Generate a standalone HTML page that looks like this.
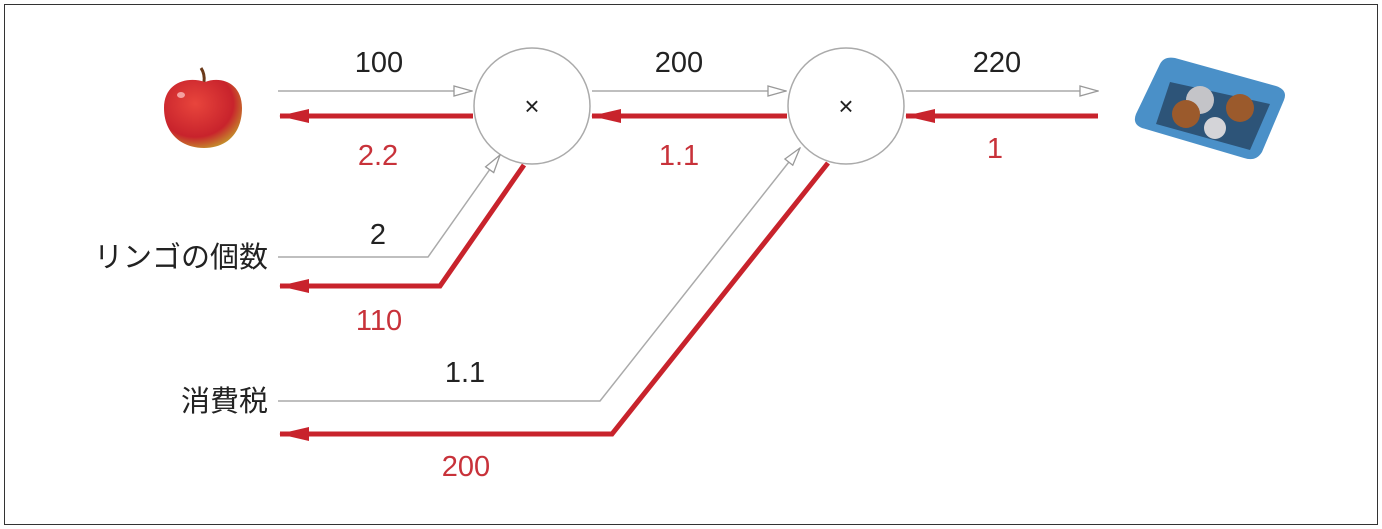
<!DOCTYPE html>
<html><head><meta charset="utf-8"><style>
body{margin:0;background:#fff}
svg{display:block}
text{font-family:"Liberation Sans","Noto Sans CJK JP",sans-serif}
</style></head><body>
<svg width="1382" height="529" viewBox="0 0 1382 529">
<defs>
<marker id="open" viewBox="0 0 20 12" refX="19" refY="6" markerWidth="20" markerHeight="12" markerUnits="userSpaceOnUse" orient="auto"><path d="M1,1 L19,6 L1,11 Z" fill="#fff" stroke="#999" stroke-width="1.3"/></marker>
<marker id="red" viewBox="0 0 30 14" refX="29" refY="7" markerWidth="30" markerHeight="14" markerUnits="userSpaceOnUse" orient="auto"><path d="M0,0 L30,7 L0,14 Z" fill="#c8232c"/></marker>
<radialGradient id="appleG" cx="0.4" cy="0.35" r="0.7"><stop offset="0" stop-color="#e8453c"/><stop offset="0.7" stop-color="#c8232c"/><stop offset="1" stop-color="#c4962c"/></radialGradient>
</defs>
<rect x="4.5" y="4.5" width="1373" height="520" fill="none" stroke="#333" stroke-width="1"/>

<g>
<path d="M201,68 q4,6 3,14" stroke="#6b3a1a" stroke-width="3" fill="none"/>
<path d="M205,82 C220,76 242,82 242,108 C242,132 228,148 204,148 C180,148 164,132 164,108 C164,82 188,76 205,82 Z" fill="url(#appleG)"/>
<ellipse cx="181" cy="95" rx="4" ry="3" fill="#f4a0a0"/>
</g>

<g>
<path d="M1175,58 L1276,86 Q1288,90 1284,100 L1262,152 Q1256,162 1244,158 L1142,128 Q1132,124 1136,114 L1160,64 Q1164,56 1175,58 Z" fill="#4a90c8"/>
<path d="M1170,82 L1270,104 L1250,150 L1156,124 Z" fill="#2d5478"/>
<circle cx="1200" cy="100" r="14" fill="#c4c4c8"/>
<circle cx="1186" cy="114" r="14" fill="#9b5a2c"/>
<circle cx="1240" cy="108" r="14" fill="#9b5a2c"/>
<circle cx="1215" cy="128" r="11" fill="#d4d4d8"/>
</g>

<g>
<circle cx="532" cy="106" r="58" fill="#fff" stroke="#aaa" stroke-width="1.5"/>
<text x="532" y="115" font-size="26" text-anchor="middle" fill="#222">×</text>
</g>
<g>
<circle cx="846" cy="106" r="58" fill="#fff" stroke="#aaa" stroke-width="1.5"/>
<text x="846" y="115" font-size="26" text-anchor="middle" fill="#222">×</text>
</g>

<g fill="none" stroke="#aaa" stroke-width="1.5">
<line x1="278" y1="91" x2="472" y2="91" marker-end="url(#open)"/>
<line x1="592" y1="91" x2="786" y2="91" marker-end="url(#open)"/>
<line x1="906" y1="91" x2="1098" y2="91" marker-end="url(#open)"/>
<polyline points="278,257 428,257 500,155" marker-end="url(#open)"/>
<polyline points="278,401 600,401 800,148" marker-end="url(#open)"/>
</g>
<g fill="none" stroke="#c8232c" stroke-width="5">
<line x1="473" y1="116" x2="280" y2="116" marker-end="url(#red)"/>
<line x1="787" y1="116" x2="592" y2="116" marker-end="url(#red)"/>
<line x1="1098" y1="116" x2="906" y2="116" marker-end="url(#red)"/>
<polyline points="524,165 440,286 280,286" marker-end="url(#red)"/>
<polyline points="828,163 612,434 280,434" marker-end="url(#red)"/>
</g>

<g font-size="29" text-anchor="middle" fill="#222">
<text x="379" y="72">100</text>
<text x="679" y="72">200</text>
<text x="997" y="72">220</text>
<text x="378" y="244">2</text>
<text x="465" y="382">1.1</text>
</g>
<g font-size="29" text-anchor="middle" fill="#c8323a">
<text x="378" y="165">2.2</text>
<text x="679" y="165">1.1</text>
<text x="995" y="158">1</text>
<text x="379" y="330">110</text>
<text x="466" y="476">200</text>
</g>
<g font-size="29" text-anchor="end" fill="#222">
<text x="268" y="267">リンゴの個数</text>
<text x="268" y="411">消費税</text>
</g>
</svg>
</body></html>
